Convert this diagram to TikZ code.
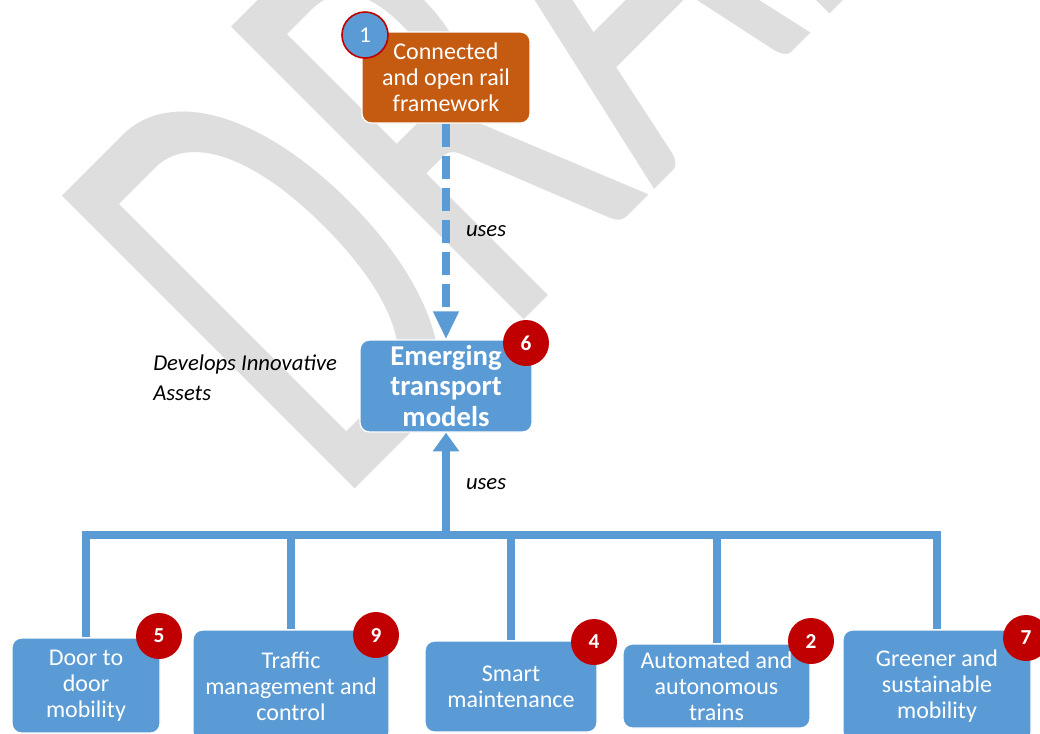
\documentclass[tikz,border=0pt]{standalone}
\usepackage{fontspec}
\setmainfont{Carlito}
\usetikzlibrary{arrows.meta}
\definecolor{myblue}{HTML}{5B9BD5}
\definecolor{myorange}{HTML}{C55A11}
\definecolor{myred}{HTML}{C00000}
\definecolor{wm}{HTML}{DEDEDE}
\tikzset{
  box/.style={rectangle, rounded corners=7pt, fill=myblue, draw=white, line width=1pt,
    text=white, align=center, inner sep=0pt, font=\fontsize{18}{19.5}\selectfont},
  obox/.style={box, fill=myorange},
  ebox/.style={box, font=\fontsize{21.5}{23}\selectfont\bfseries},
  badge/.style={circle, fill=myred, text=white, inner sep=0pt, minimum size=34.5pt,
    font=\fontsize{16}{16}\selectfont\bfseries},
  conn/.style={draw=myblue, line width=6pt},
  lbl/.style={font=\fontsize{17}{22.5}\selectfont\itshape, inner sep=0pt},
}
\begin{document}
\begin{tikzpicture}[x=0.75pt,y=-0.75pt]
\useasboundingbox (0,0) rectangle (1040,733);
\begin{scope}
\clip (0,0) rectangle (1040,733);
\fill[white] (0,0) rectangle (1040,733);
% watermark
\node[rotate=45, xscale=0.6, anchor=base west, inner sep=0pt, text=wm, font=\fontsize{484}{484}\selectfont] (wmark) at (336,508) {DRAFT};
% nodes
\node[obox, minimum width=126pt, minimum height=68.25pt] (frame) at (446,77.5) {Connected\\and open rail\\framework};
\node[badge, fill=myblue, draw=myred, line width=1.2pt, font=\fontsize{17}{17}\selectfont] (b1) at (365,35) {1};
\node[ebox, minimum width=129pt, minimum height=69pt] (emerg) at (446,386) {Emerging\\transport\\models};
\node[badge] (b6) at (526,343) {6};
\node[lbl, anchor=west, align=left] (dev) at (153,378) {Develops Innovative\\Assets};
\coordinate (bus) at (446,535);
\node[box, minimum width=111pt, minimum height=71.25pt] (door) at (86,685.5) {Door to\\door\\mobility};
\node[box, minimum width=147pt, minimum height=84pt] (traffic) at (291,686) {Traffic\\management and\\control};
\node[box, minimum width=129pt, minimum height=68.25pt] (smart) at (511,686.5) {Smart\\maintenance};
\node[box, minimum width=140.25pt, minimum height=63pt] (auto) at (716.5,686) {Automated and\\autonomous\\trains};
\node[box, minimum width=141pt, minimum height=84pt] (green) at (937,686) {Greener and\\sustainable\\mobility};
% connectors
\draw[conn, dash pattern=on 17.25pt off 6.75pt, -{Triangle[length=21pt,width=18pt]}] (frame.south) -- (emerg.north)
  node[pos=0.5, right=12pt, lbl, text=black] (uses1) {uses};
\draw[conn, -{Triangle[length=14pt,width=19pt]}] (bus) -- (emerg.south)
  node[pos=0.5, right=12pt, lbl, text=black] (uses2) {uses};
\draw[conn] (door.north) |- (bus) -| (green.north);
\draw[conn] (traffic.north) -- (traffic.north |- bus);
\draw[conn] (smart.north) -- (smart.north |- bus);
\draw[conn] (auto.north) -- (auto.north |- bus);
% badges
\node[badge] (b5) at (159,636) {5};
\node[badge] (b9) at (376,635) {9};
\node[badge] (b4) at (594,642) {4};
\node[badge] (b2) at (811,641) {2};
\node[badge] (b7) at (1026,638) {7};
\end{scope}
\end{tikzpicture}
\end{document}
